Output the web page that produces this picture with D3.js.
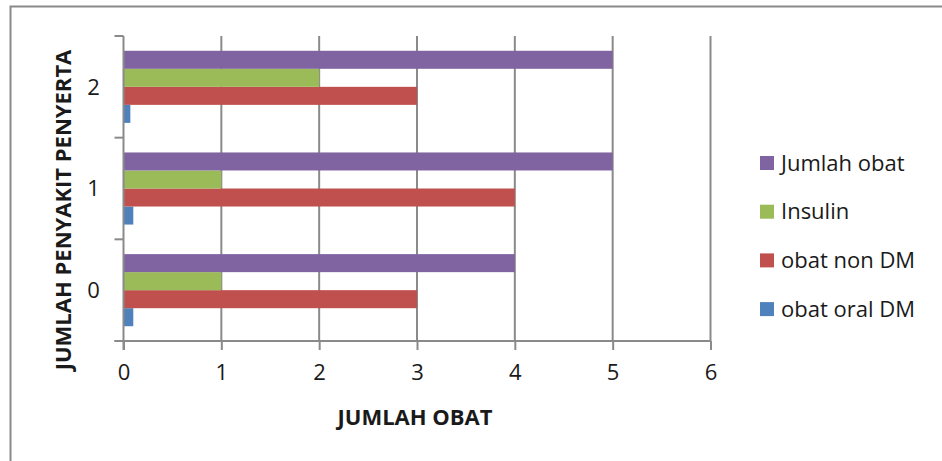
<!DOCTYPE html>
<html>
<head>
<meta charset="utf-8">
<script src="https://cdn.jsdelivr.net/npm/d3@7"></script>
<style>
  body { margin: 0; background: #fff; }
  text { font-family: "Open Sans", Lato, "Liberation Sans", sans-serif; fill: #1a1a1a; }
</style>
</head>
<body>
<script>
// data
var categories = ["0", "1", "2"];
var seriesNames = ["obat oral DM", "obat non DM", "Insulin", "Jumlah obat"];
var seriesColors = ["#4F81BD", "#C0504D", "#9BBB59", "#8064A2"];
var oralDM = [0.1, 0.1, 0.07];
var nonDM = [3, 4, 3];
var insulin = [1, 1, 2];
var jumlahObat = [4, 5, 5];
var xTicks = [0, 1, 2, 3, 4, 5, 6];

var seriesValues = [oralDM, nonDM, insulin, jumlahObat];

var width = 942, height = 461;
var svg = d3.select("body").append("svg")
  .attr("width", width)
  .attr("height", height);

// outer border
svg.append("rect")
  .attr("x", 10.5).attr("y", 6.5)
  .attr("width", 940).attr("height", 470)
  .attr("fill", "none")
  .attr("stroke", "#8a8a8a")
  .attr("stroke-width", 2);

var plotLeft = 123.5, plotRight = 710.5, plotTop = 36, plotBottom = 341;

var x = d3.scaleLinear().domain([0, 6]).range([plotLeft, plotRight]);
// category 0 at bottom
var y = d3.scaleBand().domain(categories.slice().reverse()).range([plotTop, plotBottom]).paddingInner(0).paddingOuter(0);
var yInner = d3.scaleBand().domain(d3.range(seriesNames.length).reverse())
  .range([0, y.bandwidth()]).paddingOuter(0.82).paddingInner(0);

// gridlines
svg.append("g").selectAll("line")
  .data(xTicks.slice(1))
  .join("line")
  .attr("x1", d => x(d)).attr("x2", d => x(d))
  .attr("y1", plotTop).attr("y2", plotBottom)
  .attr("stroke", "#8a8a8a")
  .attr("stroke-width", 2);

// bars
var groups = svg.append("g").selectAll("g")
  .data(categories)
  .join("g")
  .attr("transform", d => "translate(0," + y(d) + ")");

groups.selectAll("rect")
  .data((c, ci) => seriesValues.map((vals, si) => ({si: si, v: vals[ci]})))
  .join("rect")
  .attr("x", x(0))
  .attr("y", d => yInner(d.si))
  .attr("width", d => x(d.v) - x(0))
  .attr("height", yInner.bandwidth())
  .attr("fill", d => seriesColors[d.si]);

// x axis
var xAxis = svg.append("g")
  .attr("transform", "translate(0," + plotBottom + ")")
  .call(d3.axisBottom(x).tickValues(xTicks).tickFormat(d3.format("d")).tickSize(9).tickPadding(14));
xAxis.select(".domain").attr("stroke", "#8a8a8a").attr("stroke-width", 2).attr("d", "M" + (plotLeft - 9) + ",0H" + plotRight);
xAxis.selectAll(".tick line").attr("stroke", "#8a8a8a").attr("stroke-width", 2);
xAxis.selectAll(".tick text").style("font-size", "22px").style("font-family", "'Open Sans', Lato, sans-serif").attr("fill", "#1a1a1a");

// y axis
var yAxisG = svg.append("g").attr("transform", "translate(" + plotLeft + ",0)");
yAxisG.append("line")
  .attr("x1", 0).attr("x2", 0).attr("y1", plotTop).attr("y2", plotBottom + 9)
  .attr("stroke", "#8a8a8a").attr("stroke-width", 2);
var bounds = categories.map(c => y(c)).concat([plotBottom]);
yAxisG.selectAll("line.tk")
  .data(bounds)
  .join("line")
  .attr("class", "tk")
  .attr("x1", -9).attr("x2", 0)
  .attr("y1", d => d).attr("y2", d => d)
  .attr("stroke", "#8a8a8a").attr("stroke-width", 2);
yAxisG.selectAll("text")
  .data(categories)
  .join("text")
  .attr("x", -30)
  .attr("y", d => y(d) + y.bandwidth() / 2)
  .attr("dy", "0.35em")
  .attr("text-anchor", "middle")
  .style("font-size", "22px")
  .text(d => d);

// axis titles
svg.append("text")
  .attr("x", 415).attr("y", 425)
  .attr("text-anchor", "middle")
  .style("font-size", "22px")
  .style("font-weight", "bold")
  .text("JUMLAH OBAT");

svg.append("text")
  .attr("transform", "translate(71,210) rotate(-90)")
  .attr("text-anchor", "middle")
  .style("font-size", "22px")
  .style("font-weight", "bold")
  .text("JUMLAH PENYAKIT PENYERTA");

// legend (reverse order)
var legendOrder = [3, 2, 1, 0];
var legend = svg.append("g").selectAll("g")
  .data(legendOrder)
  .join("g")
  .attr("transform", (d, i) => "translate(760," + (163 + i * 48.7) + ")");
legend.append("rect")
  .attr("x", 0).attr("y", -7)
  .attr("width", 14).attr("height", 14)
  .attr("fill", d => seriesColors[d]);
legend.append("text")
  .attr("x", 21).attr("y", 0)
  .attr("dy", "0.35em")
  .style("font-size", "22px")
  .text(d => seriesNames[d]);
</script>
</body>
</html>
